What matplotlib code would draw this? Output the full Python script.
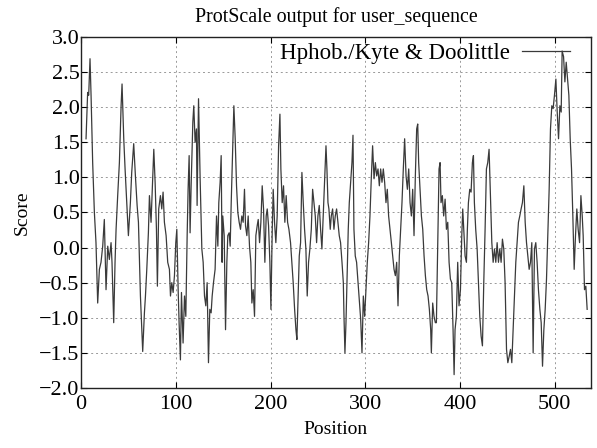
import numpy as np
import matplotlib
matplotlib.use("Agg")
import matplotlib.pyplot as plt

# ProtScale Kyte & Doolittle hydropathy profile
position = [5.3, 7.0, 8.1, 9.5, 10.6, 12.3, 14.1, 15.8, 17.6, 19.4, 21.1, 22.9, 24.6, 26.4, 28.2, 29.9,
            31.7, 32.7, 34.5, 35.9, 37.0, 38.7, 40.5, 42.3, 43.3, 45.1, 46.5, 48.6, 50.0, 52.1, 53.5, 55.6,
            57.4, 59.2, 60.6, 62.7, 64.1, 65.1, 66.9, 68.0, 69.4, 71.1, 72.2, 73.9, 75.4, 76.8, 78.2, 79.6,
            80.6, 82.0, 83.8, 85.2, 86.6, 88.0, 89.8, 91.5, 93.3, 94.4, 95.8, 97.2, 98.6, 100.0, 101.1, 102.5,
            103.5, 104.9, 106.0, 107.7, 109.2, 110.6, 112.0, 113.0, 114.1, 115.1, 116.2, 118.0, 119.0, 120.4,
            121.8, 122.5, 124.0, 125.7, 127.5, 128.9, 130.3, 131.7, 133.1, 134.5, 135.9, 137.3, 138.4, 139.8,
            141.5, 143.0, 144.4, 145.4, 146.8, 147.9, 148.9, 149.6, 151.1, 152.5, 153.9, 154.9, 156.3, 157.4,
            158.5, 159.9, 161.3, 162.7, 164.1, 165.5, 166.9, 168.3, 169.7, 171.1, 172.5, 173.6, 175.0, 176.4,
            177.8, 179.2, 180.3, 181.7, 183.1, 184.5, 185.9, 187.0, 188.4, 189.8, 191.2, 192.6, 194.0, 195.4,
            196.5, 197.9, 199.3, 200.4, 201.8, 202.8, 204.2, 205.6, 207.0, 208.5, 209.9, 210.9, 212.3, 213.7,
            215.1, 216.5, 218.0, 219.4, 221.1, 222.5, 223.9, 225.4, 226.8, 227.8, 228.9, 230.3, 231.7, 233.1,
            234.5, 235.9, 237.3, 238.7, 240.1, 241.5, 243.0, 244.4, 245.8, 247.2, 248.6, 250.0, 251.4, 252.8,
            254.2, 255.6, 257.0, 258.5, 259.5, 260.6, 261.6, 263.0, 264.1, 265.5, 266.9, 268.3, 269.7, 271.1,
            272.5, 273.9, 275.4, 276.8, 277.5, 278.5, 279.6, 280.6, 282.0, 283.1, 284.5, 285.9, 287.0, 288.0,
            289.4, 290.8, 292.3, 293.7, 295.1, 296.5, 297.9, 299.3, 300.7, 302.1, 303.5, 304.9, 306.3, 307.7,
            309.2, 310.6, 312.0, 313.4, 314.8, 316.2, 317.6, 319.0, 320.4, 321.8, 323.2, 324.6, 326.1, 327.5,
            328.9, 330.3, 331.7, 333.1, 334.5, 335.9, 337.3, 338.7, 340.1, 341.5, 343.0, 344.4, 345.8, 347.2,
            348.6, 350.0, 351.4, 352.8, 354.2, 355.3, 356.3, 357.7, 359.2, 360.6, 362.0, 363.4, 364.8, 366.2,
            367.6, 369.0, 369.7, 371.1, 372.5, 373.9, 375.0, 376.4, 377.8, 378.9, 379.9, 381.3, 382.7, 384.2,
            385.6, 387.0, 388.4, 389.8, 391.2, 392.6, 393.7, 394.7, 396.1, 397.5, 398.9, 400.4, 401.8, 402.8,
            403.9, 405.3, 406.7, 407.7, 408.8, 410.2, 411.6, 413.0, 414.1, 415.1, 416.5, 418.0, 419.4, 420.8,
            422.2, 423.6, 425.0, 426.4, 427.8, 429.2, 430.6, 432.0, 433.5, 434.9, 436.3, 437.7, 439.1, 440.5,
            441.9, 443.3, 444.7, 446.1, 447.5, 449.0, 450.4, 451.8, 453.2, 454.6, 456.0, 457.4, 458.8, 460.2,
            461.6, 463.0, 464.4, 465.8, 467.3, 468.7, 470.1, 471.5, 472.9, 474.3, 475.7, 477.1, 478.5, 479.9,
            481.3, 482.7, 484.2, 485.6, 487.0, 488.4, 489.8, 491.2, 492.6, 494.0, 495.4, 496.8, 498.2, 499.6,
            501.1, 502.5, 503.9, 505.3, 506.7, 507.7, 509.2, 510.6, 512.0, 513.4, 514.8, 516.2, 517.6, 519.0,
            520.4, 521.8, 523.2, 524.6, 526.1, 527.5, 528.9, 529.9, 531.3, 532.7, 534.1]
score = [1.55, 2.21, 2.17, 2.69, 2.17, 1.21, 0.50, 0.07, -0.79, -0.31, -0.21, 0.02, 0.40, -0.60, 0.02, -0.17,
         0.07, -0.21, -1.07, -0.21, 0.26, 0.74, 1.21, 2.02, 2.33, 1.55, 1.12, 0.55, 0.17, 0.64, 1.07, 1.48,
         1.02, 0.60, 0.36, -0.69, -1.17, -1.48, -0.93, -0.69, -0.31, 0.21, 0.74, 0.36, 0.88, 1.40, 0.93, 0.26,
         -0.55, 0.55, 0.74, 0.55, 0.79, 0.36, 0.17, -0.21, -0.31, -0.69, -0.50, -0.64, -0.40, 0.07, 0.26, -0.60,
         -1.07, -1.60, -0.64, -1.36, -0.69, -0.98, 0.17, 0.83, 1.31, 0.21, 0.88, 1.79, 2.02, 1.50,
         1.69, 0.60, 2.12, 0.98, -0.02, -0.21, -0.69, -0.83, -0.50, -1.64, -0.88, -0.93, -0.69, -0.50,
         -0.31, 0.45, 0.02, 0.64, 0.93, 1.31, -0.21, 0.45, 0.17, -1.17, -0.21, 0.17, 0.21, 0.02,
         0.64, 1.31, 2.02, 1.55, 0.88, 0.50, 0.36, 0.26, 0.45, 0.36, 0.83, 0.31, 0.17, 0.45,
         0.02, -0.21, -0.79, -0.60, -0.98, 0.17, 0.31, 0.40, 0.07, 0.36, 0.88, 0.55, -0.21, 0.45,
         0.55, 0.31, -0.21, -0.88, 0.26, 0.83, 0.36, 0.07, 0.45, 1.45, 1.90, 1.12, 0.64, 0.88,
         0.36, 0.74, 0.36, 0.26, 0.07, -0.21, -0.50, -0.88, -1.17, -1.31, -0.79, -0.12, 0.07, 1.07,
         0.64, 0.26, -0.02, -0.69, -0.21, -0.02, 0.26, 0.83, 0.64, 0.45, 0.07, 0.45, 0.60, 0.26,
         -0.02, 0.45, 0.93, 1.45, 1.12, 0.64, 0.55, 0.26, 0.45, 0.55, 0.26, 0.45, 0.55, 0.36,
         0.17, 0.07, -0.21, -0.50, -0.98, -1.50, -1.07, -0.50, 0.26, 0.64, 0.93, 1.21, 1.60, 0.26,
         -0.12, -0.21, -0.50, -0.79, -1.02, -1.50, -0.69, -0.98, -0.60, -0.21, 0.07, 0.45, 0.98, 1.45,
         0.98, 1.21, 1.02, 1.12, 0.88, 1.12, 0.93, 1.12, 0.93, 0.64, 0.83, 0.45, 0.26, 0.07,
         -0.12, -0.31, -0.40, -0.21, -0.83, -0.12, 0.26, 0.64, 1.12, 1.55, 1.02, 0.83, 1.12, 0.64,
         0.45, 0.83, 0.17, 1.02, 1.69, 1.76, 1.21, 0.83, 0.45, 0.26, -0.12, -0.40, -0.60, -0.69,
         -0.88, -1.17, -1.50, -0.79, -0.98, -1.07, -1.07, 0.02, 1.12, 1.21, 0.64, 0.74, 0.45, 0.69,
         0.26, 0.36, -0.21, -0.45, -0.50, -1.17, -1.81, -1.17, -0.98, -0.21, -0.83, -0.60, 0.17, 0.55,
         0.26, -0.12, -0.21, 0.26, 0.64, 0.83, 0.79, 1.21, 1.31, 0.64, 0.26, -0.02, -0.50, -0.98,
         -1.26, -1.40, -0.50, 0.26, 1.12, 1.21, 1.40, 0.74, 0.07, -0.21, -0.02, -0.21, 0.07, -0.21,
         -0.02, -0.21, 0.12, -0.02, -0.50, -1.45, -1.64, -1.55, -1.45, -1.64, -1.17, -0.69, -0.21, 0.07,
         0.36, 0.45, 0.55, 0.64, 0.88, 0.36, 0.07, -0.12, -0.31, -0.21, 0.07, -1.50, -0.02, 0.07,
         -0.21, -0.60, -0.88, -1.07, -1.69, -1.17, -0.88, -0.45, 0.17, 0.83, 1.69, 2.02, 1.98, 2.17,
         2.40, 1.93, 1.55, 2.02, 1.93, 2.80, 2.72, 2.36, 2.64, 2.40, 2.17, 1.55, 1.12, 0.45,
         -0.31, 0.17, 0.55, 0.26, 0.07, 0.74, 0.45, 0.17, -0.60, -0.55, -0.88]

x_ticks = [0, 100, 200, 300, 400, 500]
y_ticks = [-2.0, -1.5, -1.0, -0.5, 0.0, 0.5, 1.0, 1.5, 2.0, 2.5, 3.0]

plt.rcParams['font.family'] = ['Liberation Serif', 'DejaVu Serif']

fig = plt.figure(figsize=(5.97, 4.48), dpi=100)
ax = fig.add_axes([0.1357, 0.134, 0.854, 0.7835])

ax.plot(position, score, color='#3a3a3a', linewidth=0.9, label='Hphob./Kyte & Doolittle', zorder=3)

ax.set_xlim(0, 538)
ax.set_ylim(-2.0, 3.0)
ax.set_xticks(x_ticks)
ax.set_yticks(y_ticks)
ax.set_yticklabels([f"{v:.1f}".replace('-', '\u2212') for v in y_ticks])
ax.grid(True, linestyle=(0, (2, 3)), color='#999999', linewidth=0.7)
ax.tick_params(direction='in', top=True, right=True, labelsize=16, length=4, width=0.8)
ax.tick_params(axis='x', pad=5)
ax.tick_params(axis='y', pad=1)
for s in ax.spines.values():
    s.set_linewidth(1.0)
    s.set_color('#222222')

ax.set_title('ProtScale output for user_sequence', fontsize=14.4, pad=11)
ax.set_xlabel('Position', fontsize=14, labelpad=5)
ax.set_ylabel('Score', fontsize=14, labelpad=6)

leg = ax.legend(loc='upper right', bbox_to_anchor=(0.968, 0.995), markerfirst=False, frameon=False,
                fontsize=16.5, handlelength=2.1, borderaxespad=0.0, borderpad=0.2, handletextpad=0.5)
leg.set_zorder(2)

fig.savefig('out.png', dpi=100)
